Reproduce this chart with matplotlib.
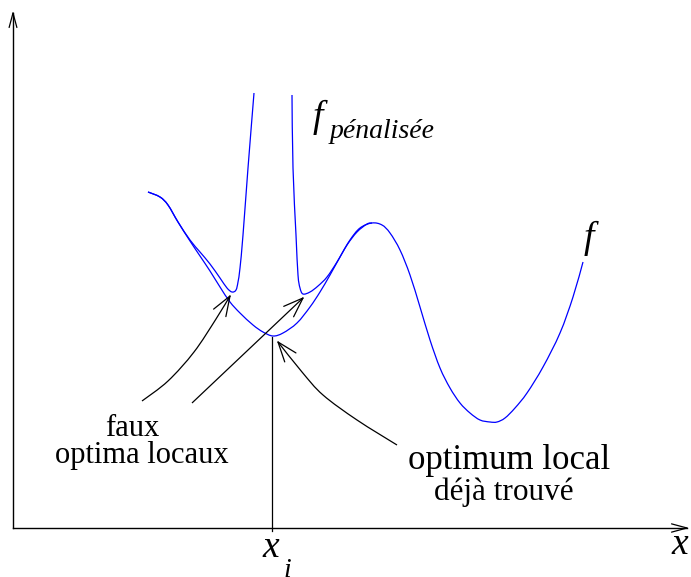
import numpy as np
import matplotlib.pyplot as plt
from matplotlib.path import Path
from matplotlib.patches import PathPatch

# everything is in picture coordinates (pixels, y grows downwards)
W, H = 691, 577

# f : the objective function
f_x = [148, 160, 168, 178, 190, 200, 210, 220, 230, 240, 253, 263, 273, 283, 297,
       310, 320, 330, 340, 350, 360, 372, 382, 390, 400, 410, 420, 430, 440, 450,
       460, 470, 480, 490, 497, 505, 515, 527, 543, 560, 573, 583]
f_y = [192, 197, 205, 222, 241, 256, 271, 287, 302, 313, 325, 332, 336, 333, 323,
       307, 292, 275, 257, 240, 228, 223, 225, 233, 250, 275, 307, 340, 368, 388,
       403, 413, 420, 422, 422, 418, 408, 393, 367, 333, 297, 262]

# f penalisee, left branch (up to the spike)
pl_x = [148, 160, 168, 178, 190, 200, 210, 220, 227, 232, 236, 238, 240, 243, 248, 254]
pl_y = [192, 197, 205, 222, 240, 252, 264, 278, 288, 292, 290, 282, 268, 235, 168, 93]

# f penalisee, right branch (from the spike to the hump)
pr_x = [292, 293, 296, 298, 300, 303, 310, 318, 327, 337, 347, 357, 367, 372]
pr_y = [95, 168, 235, 275, 288, 294, 292, 286, 277, 262, 245, 232, 224, 223]

# annotation arrows
a1_x = [142, 168, 194, 216, 230]
a1_y = [401, 381, 352, 319, 296]
a2_x = [192, 303]
a2_y = [403, 298]
a3_x = [397, 357, 323, 302, 278]
a3_y = [445, 420, 395, 372, 342]

xi = 272

fig = plt.figure(figsize=(W / 100, H / 100), dpi=100)
ax = fig.add_axes([0, 0, 1, 1])
ax.set_xlim(0, W)
ax.set_ylim(H, 0)
ax.axis('off')


def smooth(xs, ys, color, lw=0.9):
    # Catmull-Rom spline through the points, drawn as cubic Bezier pieces
    p = np.column_stack([xs, ys]).astype(float)
    ext = np.vstack([p[0], p, p[-1]])
    verts = [p[0]]
    codes = [Path.MOVETO]
    for i in range(len(p) - 1):
        p0, p1, p2, p3 = ext[i], ext[i + 1], ext[i + 2], ext[i + 3]
        verts += [p1 + (p2 - p0) / 6, p2 - (p3 - p1) / 6, p2]
        codes += [Path.CURVE4] * 3
    ax.add_patch(PathPatch(Path(verts, codes), fill=False, edgecolor=color, lw=lw))


def head(x0, y0, x1, y1, length, half):
    # open V head at (x1, y1), coming from (x0, y0)
    ang = np.arctan2(y0 - y1, x0 - x1)
    for s in (-1, 1):
        a = ang + s * np.radians(half)
        ax.plot([x1, x1 + length * np.cos(a)], [y1, y1 + length * np.sin(a)],
                color='black', lw=0.9, solid_capstyle='round')


blue = '#0000ff'
smooth(f_x, f_y, blue)
smooth(pl_x, pl_y, blue)
smooth(pr_x, pr_y, blue)

# axes
ax.plot([13, 13], [528, 13], color='black', lw=1.0)
ax.plot([13, 687], [528, 528], color='black', lw=1.0)
head(13, 528, 13, 13, 15, 15)
head(13, 528, 687, 528, 16, 15)

for xs, ys in [(a1_x, a1_y), (a2_x, a2_y), (a3_x, a3_y)]:
    smooth(xs, ys, 'black')
    head(xs[-2], ys[-2], xs[-1], ys[-1], 21, 20)

ax.plot([xi, xi], [337, 531], color='black', lw=0.9)

serif = 'Liberation Serif'
ax.text(132, 436, 'faux', family=serif, fontsize=22, ha='center', va='baseline')
ax.text(142, 463, 'optima locaux', family=serif, fontsize=22, ha='center', va='baseline')
ax.text(509, 469, 'optimum local', family=serif, fontsize=25, ha='center', va='baseline')
ax.text(504, 500, 'déjà trouvé', family=serif, fontsize=22.5, ha='center', va='baseline')

ax.text(313, 127, 'f', family=serif, style='italic', fontsize=27, ha='left', va='baseline')
ax.text(330, 138, 'pénalisée', family=serif, style='italic', fontsize=20, ha='left', va='baseline')
ax.text(584, 248, 'f', family=serif, style='italic', fontsize=27, ha='left', va='baseline')
ax.text(671, 554, 'x', family=serif, style='italic', fontsize=27, ha='left', va='baseline')
ax.text(262, 557, 'x', family=serif, style='italic', fontsize=27, ha='left', va='baseline')
ax.text(283, 577, 'i', family=serif, style='italic', fontsize=20, ha='left', va='baseline')

fig.savefig('out.png', dpi=100)
